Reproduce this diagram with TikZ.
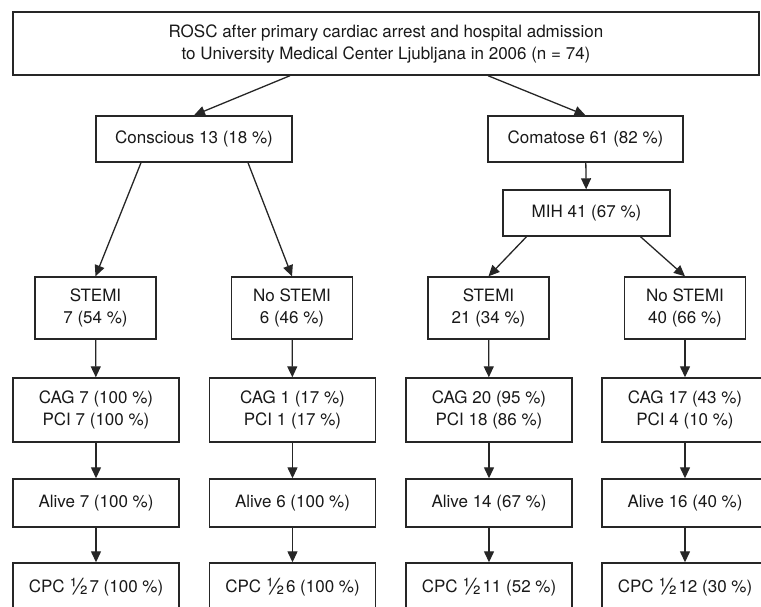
\documentclass[tikz,border=0pt]{standalone}
\usepackage{fontspec}
\setmainfont{TeX Gyre Heros}
\usetikzlibrary{
    arrows.meta,
    positioning
}

\newcommand{\halfcpc}{\raisebox{-0.25ex}{\scalebox{1.35}{½}}\kern0.06em}

\begin{document}
\begin{tikzpicture}[
    x=1pt, y=-1pt,
    font=\fontsize{17}{22}\selectfont,
    box/.style={
        rectangle,
        draw=black!85,
        line width=1.4pt,
        align=center,
        inner sep=0pt,
        text=black!90,
        fill=white
    },
    groupbox/.style={
        box,
        minimum height=46pt
    },
    splitbox/.style={
        box,
        minimum width=121pt,
        minimum height=62pt
    },
    resultbox/.style={
        box,
        minimum width=166pt
    },
    arrow/.style={
        -{Triangle[length=11pt,width=10pt]},
        line width=1.3pt,
        draw=black!85
    }
]

\useasboundingbox (0,0) rectangle (761,606);
\clip (0,0) rectangle (761,606);

% =========================================================
% Admission and state
% =========================================================
\node[box, minimum width=746pt, minimum height=63pt] (rosc) at (386,43.5)
{ROSC after primary cardiac arrest and hospital admission\\to University Medical Center Ljubljana in 2006 (n = 74)};

\node[groupbox, minimum width=196pt] (conscious) at (194,139)
{Conscious 13 (18 \%)};

\node[groupbox, minimum width=195pt] (comatose) at (585.5,139)
{Comatose 61 (82 \%)};

\node[groupbox, minimum width=167pt] (mih) at (586.5,213)
{MIH 41 (67 \%)};

% =========================================================
% STEMI split
% =========================================================
\node[splitbox] (splitA) at (95.5,308) {STEMI\\7 (54 \%)};
\node[splitbox] (splitB) at (292,308) {No STEMI\\6 (46 \%)};
\node[splitbox] (splitC) at (488.5,308) {STEMI\\21 (34 \%)};
\node[splitbox] (splitD) at (685,308) {No STEMI\\40 (66 \%)};

% =========================================================
% Angiography, survival, outcome
% =========================================================
\node[resultbox, minimum height=64pt] (cagA) at (96,410) {CAG 7 (100 \%)\\PCI 7 (100 \%)};
\node[resultbox, minimum height=64pt] (cagB) at (292.5,410) {CAG 1 (17 \%)\\PCI 1 (17 \%)};
\node[resultbox, minimum height=64pt] (cagC) at (489,410) {CAG 20 (95 \%)\\PCI 18 (86 \%)};
\node[resultbox, minimum height=64pt] (cagD) at (685,410) {CAG 17 (43 \%)\\PCI 4 (10 \%)};

\node[resultbox, minimum height=48pt] (aliveA) at (96,503) {Alive 7 (100 \%)};
\node[resultbox, minimum height=48pt] (aliveB) at (292.5,503) {Alive 6 (100 \%)};
\node[resultbox, minimum height=48pt] (aliveC) at (489,503) {Alive 14 (67 \%)};
\node[resultbox, minimum height=48pt] (aliveD) at (685,503) {Alive 16 (40 \%)};

\node[resultbox, minimum height=48pt] (cpcA) at (96,587) {CPC \halfcpc7 (100 \%)};
\node[resultbox, minimum height=48pt] (cpcB) at (292.5,587) {CPC \halfcpc6 (100 \%)};
\node[resultbox, minimum height=48pt] (cpcC) at (489,587) {CPC \halfcpc11 (52 \%)};
\node[resultbox, minimum height=48pt] (cpcD) at (685,587) {CPC \halfcpc12 (30 \%)};

% =========================================================
% Arrows
% =========================================================
\draw[arrow] ([xshift=-96pt]rosc.south) -- (conscious.north);
\draw[arrow] ([xshift=102pt]rosc.south) -- (comatose.north);

\draw[arrow] ([xshift=-53pt]conscious.south) -- (splitA.north);
\draw[arrow] ([xshift=54pt]conscious.south) -- (splitB.north);

\draw[arrow] (comatose) -- (mih);
\draw[arrow] ([xshift=-60pt]mih.south) -- (splitC.north);
\draw[arrow] ([xshift=54pt]mih.south) -- (splitD.north);

\foreach \col in {A,B,C,D} {
    \draw[arrow] (split\col) -- (cag\col);
    \draw[arrow] (cag\col) -- (alive\col);
    \draw[arrow] (alive\col) -- (cpc\col);
}

\end{tikzpicture}
\end{document}
